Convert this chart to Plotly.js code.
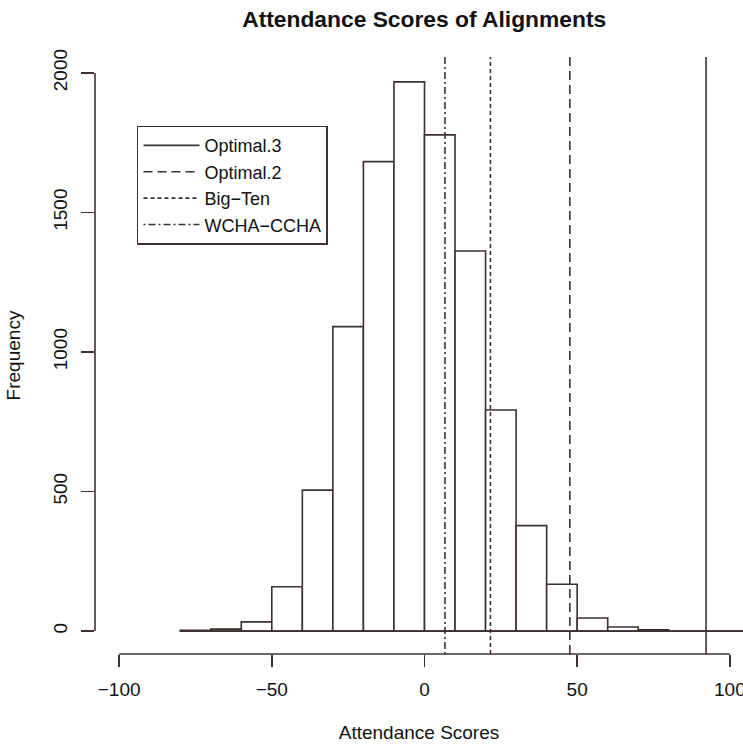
<!DOCTYPE html>
<html>
<head>
<meta charset="utf-8">
<script src="https://cdn.plot.ly/plotly-3.0.1.min.js"></script>
<style>html,body{margin:0;padding:0;background:#fff;}#chart{width:743px;height:747px;}</style>
</head>
<body>
<div id="chart"></div>
<script>
// Histogram bins (width 10) and counts
const binCenters = [-75, -65, -55, -45, -35, -25, -15, -5, 5, 15, 25, 35, 45, 55, 65, 75, 85, 95, 105];
const binCounts  = [3, 7, 33, 159, 505, 1091, 1682, 1968, 1778, 1362, 792, 378, 168, 47, 15, 5, 0, 0, 0];
const binWidth = 10;

// Reference lines (alignment scores)
const refNames  = ["Optimal.3", "Optimal.2", "Big\u2212Ten", "WCHA\u2212CCHA"];
const refValues = [92.2, 47.6, 21.6, 6.7];
const refDashes = ["solid", "9px,5px", "4px,3px", "2px,3px,7px,3px"];

// Axis ticks
const xTickVals = [-100, -50, 0, 50, 100];
const xTickText = ["\u2212100", "\u221250", "0", "50", "100"];
const yTickVals = [0, 500, 1000, 1500, 2000];
const yTickText = ["0", "500", "1000", "1500", "2000"];

const xRange = [-107.9, 104.3];
const yRange = [-82, 2057];

const ink = "#3b3230";
const font = "Liberation Sans, Arial, Helvetica, sans-serif";

const traces = [];

// Baseline across all bins (as R draws zero-height rectangles)
const edges = [binCenters[0] - binWidth / 2, binCenters[binCenters.length - 1] + binWidth / 2];
traces.push({
  type: "scatter", mode: "lines", x: edges, y: [0, 0],
  line: {color: ink, width: 1.6}, showlegend: false, hoverinfo: "skip"
});

traces.push({
  type: "bar", x: binCenters, y: binCounts, width: binWidth,
  marker: {color: "rgba(255,255,255,1)", line: {color: ink, width: 1.6}},
  showlegend: false, hoverinfo: "x+y"
});

refNames.forEach((name, i) => {
  traces.push({
    type: "scatter", mode: "lines", name: name,
    x: [refValues[i], refValues[i]], y: [yRange[0], yRange[1]],
    line: {color: ink, width: 1.6, dash: refDashes[i]},
    hoverinfo: "name+x"
  });
});

const layout = {
  width: 743, height: 747,
  paper_bgcolor: "#fff", plot_bgcolor: "#fff",
  margin: {l: 95, r: 0, t: 57, b: 93, pad: 0},
  font: {family: font, size: 19, color: "#111"},
  title: {
    text: "<b>Attendance Scores of Alignments</b>",
    font: {family: font, size: 22.8, color: "#111"},
    x: 0.508, xref: "paper", xanchor: "center",
    y: 1 - 19 / 747, yref: "container", yanchor: "middle"
  },
  showlegend: true,
  legend: {
    x: 0.0648, y: 0.885, xanchor: "left", yanchor: "top",
    bgcolor: "#fff", bordercolor: ink, borderwidth: 1.5,
    font: {family: font, size: 18, color: "#111"},
    tracegroupgap: 0, itemwidth: 56
  },
  bargap: 0,
  xaxis: {
    range: xRange, autorange: false,
    showgrid: false, zeroline: false, showline: false,
    tickmode: "array", tickvals: xTickVals, ticktext: xTickText,
    ticks: "outside", ticklen: 12, tickwidth: 1.5, tickcolor: ink,
    ticklabelstandoff: 6, ticklabeloverflow: "allow",
    tickfont: {family: font, size: 19, color: "#111"},
    title: {text: "Attendance Scores", font: {family: font, size: 19, color: "#111"}, standoff: 26}
  },
  yaxis: {
    range: yRange, autorange: false,
    showgrid: false, zeroline: false, showline: false,
    tickmode: "array", tickvals: yTickVals, ticktext: yTickText,
    ticks: "outside", ticklen: 13, tickwidth: 1.5, tickcolor: ink,
    tickangle: -90, ticklabelstandoff: 6,
    tickfont: {family: font, size: 19, color: "#111"},
    title: {text: "Frequency", font: {family: font, size: 19, color: "#111"}, standoff: 24}
  },
  shapes: [
    {type: "line", xref: "x", yref: "paper", x0: xTickVals[0], x1: xTickVals[xTickVals.length - 1], y0: 0, y1: 0,
     line: {color: ink, width: 1.6}},
    {type: "line", xref: "paper", yref: "y", x0: 0, x1: 0, y0: yTickVals[0], y1: yTickVals[yTickVals.length - 1],
     line: {color: ink, width: 1.6}}
  ]
};

Plotly.newPlot("chart", traces, layout, {displayModeBar: false, staticPlot: true});
</script>
</body>
</html>
